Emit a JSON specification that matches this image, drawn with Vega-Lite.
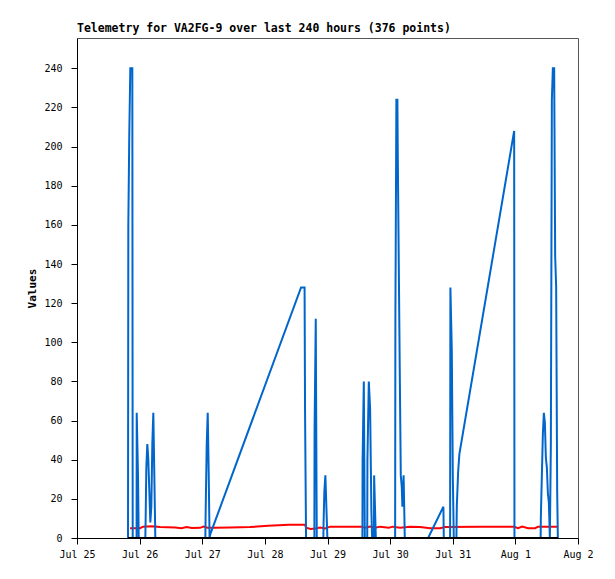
{
  "$schema": "https://vega.github.io/schema/vega-lite/v6.json",
  "width": 501,
  "height": 500,
  "autosize": "none",
  "padding": {"left": 77, "top": 38, "right": 37, "bottom": 41},
  "background": "white",
  "title": {
    "text": "Telemetry for VA2FG-9 over last 240 hours (376 points)",
    "anchor": "start",
    "frame": "group",
    "font": "DejaVu Sans Mono",
    "fontSize": 11.5,
    "fontWeight": "bold",
    "color": "black",
    "offset": 4
  },
  "datasets": {
    "blue": [
      {"t": "2024-07-25T19:33", "v": 0},
      {"t": "2024-07-25T19:40", "v": 160},
      {"t": "2024-07-25T20:03", "v": 208},
      {"t": "2024-07-25T20:26", "v": 240},
      {"t": "2024-07-25T21:12", "v": 240},
      {"t": "2024-07-25T21:21", "v": 0},
      {"t": "2024-07-25T22:50", "v": 0},
      {"t": "2024-07-25T22:53", "v": 64},
      {"t": "2024-07-25T23:23", "v": 32},
      {"t": "2024-07-25T23:39", "v": 0},
      {"t": "2024-07-26T02:11", "v": 0},
      {"t": "2024-07-26T02:20", "v": 12},
      {"t": "2024-07-26T02:34", "v": 36},
      {"t": "2024-07-26T02:57", "v": 48},
      {"t": "2024-07-26T03:20", "v": 40},
      {"t": "2024-07-26T03:43", "v": 24},
      {"t": "2024-07-26T04:06", "v": 8},
      {"t": "2024-07-26T04:29", "v": 16},
      {"t": "2024-07-26T04:52", "v": 48},
      {"t": "2024-07-26T05:15", "v": 64},
      {"t": "2024-07-26T05:38", "v": 32},
      {"t": "2024-07-26T06:01", "v": 0},
      {"t": "2024-07-27T01:11", "v": 0},
      {"t": "2024-07-27T01:20", "v": 16},
      {"t": "2024-07-27T01:43", "v": 48},
      {"t": "2024-07-27T02:06", "v": 64},
      {"t": "2024-07-27T02:29", "v": 32},
      {"t": "2024-07-27T02:48", "v": 0},
      {"t": "2024-07-27T03:06", "v": 2},
      {"t": "2024-07-28T13:52", "v": 128},
      {"t": "2024-07-28T15:13", "v": 128},
      {"t": "2024-07-28T15:24", "v": 64},
      {"t": "2024-07-28T15:47", "v": 0},
      {"t": "2024-07-28T18:58", "v": 0},
      {"t": "2024-07-28T19:03", "v": 56},
      {"t": "2024-07-28T19:30", "v": 112},
      {"t": "2024-07-28T19:53", "v": 0},
      {"t": "2024-07-28T22:25", "v": 0},
      {"t": "2024-07-28T22:30", "v": 8},
      {"t": "2024-07-28T22:48", "v": 24},
      {"t": "2024-07-28T23:11", "v": 32},
      {"t": "2024-07-28T23:34", "v": 16},
      {"t": "2024-07-28T23:57", "v": 0},
      {"t": "2024-07-29T13:23", "v": 0},
      {"t": "2024-07-29T13:27", "v": 40},
      {"t": "2024-07-29T13:55", "v": 80},
      {"t": "2024-07-29T14:18", "v": 0},
      {"t": "2024-07-29T15:14", "v": 0},
      {"t": "2024-07-29T15:18", "v": 40},
      {"t": "2024-07-29T15:50", "v": 80},
      {"t": "2024-07-29T16:20", "v": 66},
      {"t": "2024-07-29T16:49", "v": 14},
      {"t": "2024-07-29T17:06", "v": 0},
      {"t": "2024-07-29T17:48", "v": 0},
      {"t": "2024-07-29T17:52", "v": 32},
      {"t": "2024-07-29T18:31", "v": 0},
      {"t": "2024-07-30T01:55", "v": 0},
      {"t": "2024-07-30T02:01", "v": 112},
      {"t": "2024-07-30T02:24", "v": 224},
      {"t": "2024-07-30T02:47", "v": 224},
      {"t": "2024-07-30T02:56", "v": 196},
      {"t": "2024-07-30T03:19", "v": 140},
      {"t": "2024-07-30T03:42", "v": 84},
      {"t": "2024-07-30T04:05", "v": 32},
      {"t": "2024-07-30T04:28", "v": 26},
      {"t": "2024-07-30T04:42", "v": 16},
      {"t": "2024-07-30T05:10", "v": 32},
      {"t": "2024-07-30T05:37", "v": 0},
      {"t": "2024-07-30T14:34", "v": 0},
      {"t": "2024-07-30T20:25", "v": 16},
      {"t": "2024-07-30T20:34", "v": 0},
      {"t": "2024-07-30T22:59", "v": 0},
      {"t": "2024-07-30T23:06", "v": 128},
      {"t": "2024-07-30T23:38", "v": 96},
      {"t": "2024-07-31T00:01", "v": 32},
      {"t": "2024-07-31T00:24", "v": 0},
      {"t": "2024-07-31T01:24", "v": 0},
      {"t": "2024-07-31T01:33", "v": 16},
      {"t": "2024-07-31T02:04", "v": 34},
      {"t": "2024-07-31T02:33", "v": 43},
      {"t": "2024-07-31T23:32", "v": 208},
      {"t": "2024-07-31T23:39", "v": 0},
      {"t": "2024-08-01T09:41", "v": 0},
      {"t": "2024-08-01T09:46", "v": 11},
      {"t": "2024-08-01T10:09", "v": 32},
      {"t": "2024-08-01T10:32", "v": 53},
      {"t": "2024-08-01T10:55", "v": 64},
      {"t": "2024-08-01T11:18", "v": 59},
      {"t": "2024-08-01T11:41", "v": 41},
      {"t": "2024-08-01T12:04", "v": 36},
      {"t": "2024-08-01T12:27", "v": 23},
      {"t": "2024-08-01T12:50", "v": 18},
      {"t": "2024-08-01T13:13", "v": 0},
      {"t": "2024-08-01T13:36", "v": 48},
      {"t": "2024-08-01T13:59", "v": 224},
      {"t": "2024-08-01T14:22", "v": 240},
      {"t": "2024-08-01T14:52", "v": 240},
      {"t": "2024-08-01T15:15", "v": 144},
      {"t": "2024-08-01T15:38", "v": 128},
      {"t": "2024-08-01T16:01", "v": 24},
      {"t": "2024-08-01T16:17", "v": 0}
    ],
    "red": [
      {"t": "2024-07-25T20:19", "v": 5},
      {"t": "2024-07-26T00:09", "v": 5},
      {"t": "2024-07-26T01:18", "v": 5.8},
      {"t": "2024-07-26T04:30", "v": 6.0},
      {"t": "2024-07-26T07:49", "v": 5.6},
      {"t": "2024-07-26T13:34", "v": 5.4},
      {"t": "2024-07-26T16:00", "v": 5.0},
      {"t": "2024-07-26T18:00", "v": 5.6},
      {"t": "2024-07-26T20:00", "v": 5.1},
      {"t": "2024-07-26T23:09", "v": 5.2},
      {"t": "2024-07-27T00:30", "v": 5.8},
      {"t": "2024-07-27T02:00", "v": 5.2},
      {"t": "2024-07-27T04:54", "v": 5.2},
      {"t": "2024-07-27T10:39", "v": 5.4},
      {"t": "2024-07-27T18:19", "v": 5.6},
      {"t": "2024-07-28T01:13", "v": 6.2},
      {"t": "2024-07-28T09:16", "v": 6.8},
      {"t": "2024-07-28T15:24", "v": 6.8},
      {"t": "2024-07-28T15:47", "v": 5.3},
      {"t": "2024-07-28T17:30", "v": 4.6},
      {"t": "2024-07-28T19:14", "v": 4.8},
      {"t": "2024-07-28T21:09", "v": 5.4},
      {"t": "2024-07-28T23:04", "v": 4.9},
      {"t": "2024-07-29T00:59", "v": 5.8},
      {"t": "2024-07-29T13:00", "v": 5.8},
      {"t": "2024-07-29T14:30", "v": 5.2},
      {"t": "2024-07-29T16:19", "v": 5.8},
      {"t": "2024-07-29T18:14", "v": 5.2},
      {"t": "2024-07-29T20:09", "v": 5.8},
      {"t": "2024-07-29T23:30", "v": 5.3},
      {"t": "2024-07-30T01:00", "v": 5.8},
      {"t": "2024-07-30T03:49", "v": 5.2},
      {"t": "2024-07-30T07:39", "v": 5.8},
      {"t": "2024-07-30T11:29", "v": 5.6},
      {"t": "2024-07-30T15:19", "v": 5.0},
      {"t": "2024-07-30T19:09", "v": 5.0},
      {"t": "2024-07-30T21:04", "v": 5.6},
      {"t": "2024-07-31T10:29", "v": 5.7},
      {"t": "2024-07-31T23:32", "v": 5.7},
      {"t": "2024-08-01T01:03", "v": 5.0},
      {"t": "2024-08-01T02:35", "v": 5.8},
      {"t": "2024-08-01T04:53", "v": 5.0},
      {"t": "2024-08-01T07:34", "v": 5.0},
      {"t": "2024-08-01T08:43", "v": 5.8},
      {"t": "2024-08-01T16:23", "v": 5.8}
    ],
    "black": [
      {"t": "2024-07-25T19:33", "v": 0},
      {"t": "2024-07-28T00:00", "v": 0},
      {"t": "2024-07-31T00:00", "v": 0},
      {"t": "2024-08-01T16:23", "v": 0}
    ]
  },
  "encoding": {
    "x": {
      "field": "t",
      "type": "temporal",
      "title": null,
      "scale": {
        "domain": [
          {"year": 2024, "month": "jul", "date": 25},
          {"year": 2024, "month": "aug", "date": 2}
        ],
        "nice": false
      },
      "axis": {
        "format": "%b %-d",
        "tickCount": {"interval": "day", "step": 1},
        "labelFlush": false,
        "labelOverlap": false,
        "labelBound": false,
        "labelPadding": 5,
        "grid": false
      }
    },
    "y": {
      "field": "v",
      "type": "quantitative",
      "title": "Values",
      "scale": {"domain": [0, 255.5], "nice": false, "zero": true},
      "axis": {
        "values": [0, 20, 40, 60, 80, 100, 120, 140, 160, 180, 200, 220, 240],
        "labelPadding": 9,
        "titlePadding": 6,
        "grid": false
      }
    }
  },
  "layer": [
    {
      "data": {"name": "red"},
      "mark": {"type": "line", "color": "#ff0000", "strokeWidth": 2, "clip": true}
    },
    {
      "data": {"name": "blue"},
      "mark": {"type": "line", "color": "#0066cc", "strokeWidth": 2, "clip": true}
    },
    {
      "data": {"name": "black"},
      "mark": {"type": "line", "color": "#000000", "strokeWidth": 2, "clip": true}
    }
  ],
  "config": {
    "view": {"stroke": "#555555", "strokeWidth": 1},
    "axis": {
      "domainColor": "#000000",
      "domainWidth": 1,
      "tickColor": "#000000",
      "tickSize": 6,
      "labelFont": "DejaVu Sans Mono",
      "labelFontSize": 10,
      "labelColor": "#000000",
      "titleFont": "DejaVu Sans Mono",
      "titleFontSize": 11,
      "titleFontWeight": "bold",
      "titleColor": "#000000"
    }
  }
}
